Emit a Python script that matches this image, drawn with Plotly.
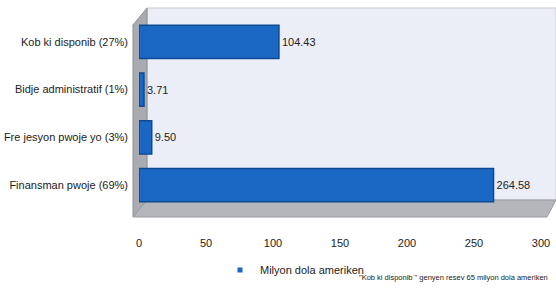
import plotly.graph_objects as go

categories = ["Kob ki disponib (27%)", "Bidje administratif (1%)",
              "Fre jesyon pwoje yo (3%)", "Finansman pwoje (69%)"]
values = [104.43, 3.71, 9.50, 264.58]
tick_vals = [0, 50, 100, 150, 200, 250, 300]
series_name = "Milyon dola ameriken"
footnote = "\"Kob ki disponib \" genyen resev 65 milyon dola ameriken"

W, H = 556, 299
L, R, T, B = 139, 15, 18, 90
pw = W - L - R
ph = H - T - B

def px(x):
    return (x - L) / pw

def py(y):
    return 1 - (y - T) / ph

FONT = "Liberation Sans, Arial, sans-serif"
FS = 11

fig = go.Figure()
fig.add_trace(go.Bar(
    y=categories, x=values, orientation="h", name=series_name,
    marker=dict(color="#1b67c4", line=dict(color="#0c4a94", width=1.5)),
    text=values, texttemplate="%{x:.2f}", textposition="outside",
    textfont=dict(family=FONT, size=FS, color="#222"),
    cliponaxis=False, showlegend=False,
))
# legend-only entry with the small square marker seen in the reference
fig.add_trace(go.Scatter(
    x=[None], y=[None], mode="markers", name=series_name,
    marker=dict(symbol="square", size=5, color="#1b67c4"),
    showlegend=True,
))

shapes = []
shapes.append(dict(type="path", xref="paper", yref="paper", layer="below",
                   path=f"M {px(147)} {py(8)} L {px(556)} {py(8)} L {px(556)} {py(200)} L {px(147)} {py(200)} Z",
                   fillcolor="#eceef7", line=dict(color="#c8c8d0", width=1)))
shapes.append(dict(type="path", xref="paper", yref="paper", layer="below",
                   path=f"M {px(133)} {py(25)} L {px(147)} {py(8)} L {px(147)} {py(200)} L {px(133)} {py(217)} Z",
                   fillcolor="#a9abb0", line=dict(color="#8e9095", width=1)))
shapes.append(dict(type="path", xref="paper", yref="paper", layer="below",
                   path=f"M {px(133)} {py(217)} L {px(147)} {py(200)} L {px(556)} {py(200)} L {px(547)} {py(217)} Z",
                   fillcolor="#b4b6bb", line=dict(color="#9a9ca1", width=1)))

fig.update_layout(
    width=W, height=H,
    margin=dict(l=L, r=R, t=T, b=B, autoexpand=False),
    paper_bgcolor="white", plot_bgcolor="rgba(0,0,0,0)",
    bargap=0.3,
    showlegend=True,
    legend=dict(orientation="h", x=px(220), y=py(270), xanchor="left", yanchor="middle",
                font=dict(family=FONT, size=FS, color="#222"), bgcolor="rgba(0,0,0,0)",
                itemwidth=30),
    xaxis=dict(range=[0, 300], tickvals=tick_vals, showgrid=False, zeroline=False,
               showline=False, ticks="", ticklabelstandoff=26, automargin=False,
               tickfont=dict(family=FONT, size=FS, color="#222")),
    yaxis=dict(categoryorder="array", categoryarray=categories[::-1],
               showgrid=False, zeroline=False, showline=False, ticks="",
               ticklabelstandoff=10, automargin=False,
               tickfont=dict(family=FONT, size=FS, color="#222")),
    shapes=shapes,
    annotations=[dict(text=footnote, xref="paper", yref="paper",
                      x=px(357), y=py(277), xanchor="left", yanchor="middle",
                      showarrow=False,
                      font=dict(family=FONT, size=7.5, color="#222"))],
)

fig.write_html("out.html", config={"displayModeBar": False},
               post_script="document.body.style.margin='0';document.body.style.overflow='hidden';")
